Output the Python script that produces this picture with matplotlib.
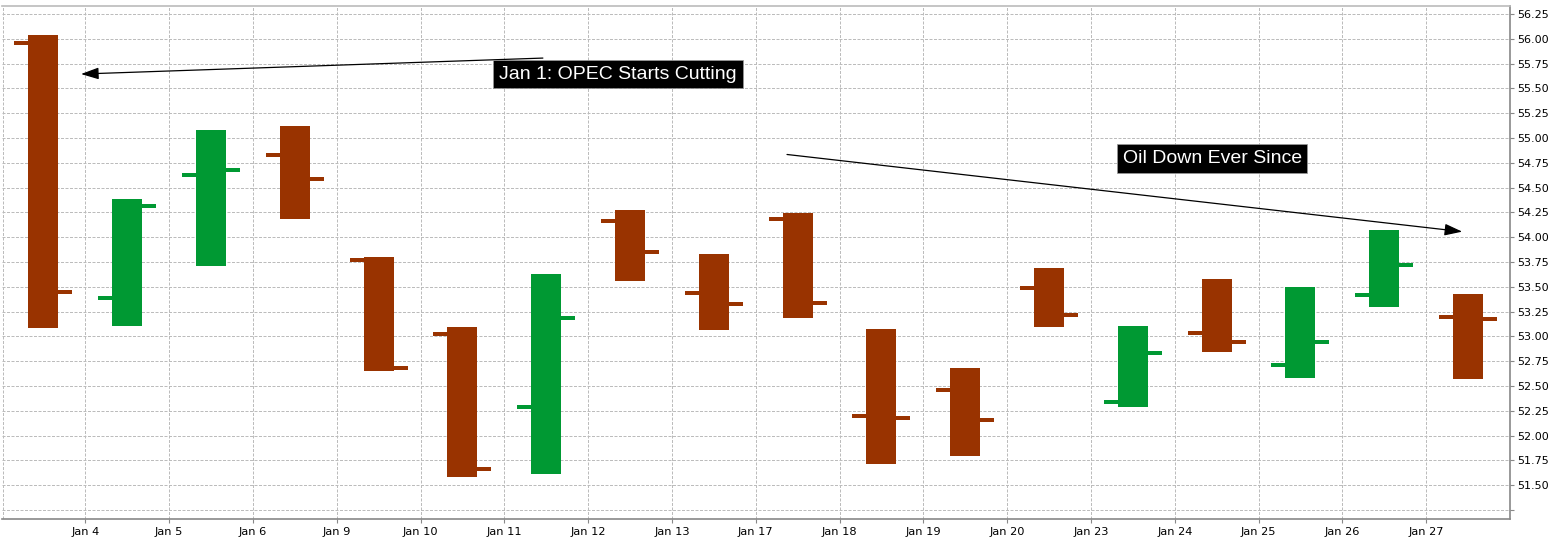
import matplotlib
matplotlib.use("Agg")
import matplotlib.pyplot as plt
import numpy as np

dates = ['Jan 3', 'Jan 4', 'Jan 5', 'Jan 6', 'Jan 9', 'Jan 10', 'Jan 11', 'Jan 12', 'Jan 13',
         'Jan 17', 'Jan 18', 'Jan 19', 'Jan 20', 'Jan 23', 'Jan 24', 'Jan 25', 'Jan 26', 'Jan 27']
opens  = [55.96, 53.39, 54.63, 54.83, 53.77, 53.02, 52.29, 54.16, 53.44,
          54.18, 52.20, 52.46, 53.49, 52.34, 53.03, 52.71, 53.42, 53.20]
highs  = [56.04, 54.39, 55.08, 55.12, 53.80, 53.09, 53.63, 54.27, 53.83,
          54.24, 53.07, 52.68, 53.69, 53.10, 53.58, 53.50, 54.07, 53.43]
lows   = [53.08, 53.10, 53.71, 54.18, 52.65, 51.58, 51.61, 53.56, 53.06,
          53.19, 51.71, 51.79, 53.09, 52.29, 52.84, 52.58, 53.30, 52.57]
closes = [53.45, 54.31, 54.68, 54.59, 52.68, 51.66, 53.19, 53.85, 53.33,
          53.34, 52.18, 52.16, 53.22, 52.83, 52.94, 52.94, 53.72, 53.18]

y_ticks = [51.25, 51.50, 51.75, 52.00, 52.25, 52.50, 52.75, 53.00, 53.25, 53.50, 53.75,
           54.00, 54.25, 54.50, 54.75, 55.00, 55.25, 55.50, 55.75, 56.00, 56.25]

UP = '#009933'
DOWN = '#993300'

W, H = 1556, 544
fig = plt.figure(figsize=(W / 100, H / 100), dpi=100)
ax = fig.add_axes([1.5 / W, (H - 519) / H, (1510 - 1.5) / W, (519 - 6) / H])

opens_a = np.array(opens); highs_a = np.array(highs)
lows_a = np.array(lows); closes_a = np.array(closes)
x = np.arange(len(dates)) + 0.5
colors = [UP if c >= o else DOWN for o, c in zip(opens, closes)]

bw = 0.358
tl = 0.167
th = 0.04
ax.bar(x, highs_a - lows_a, bottom=lows_a, width=bw, color=colors, zorder=3, linewidth=0)
ax.bar(x - bw / 2 - tl / 2, th, bottom=opens_a - th / 2, width=tl, color=colors, zorder=3, linewidth=0)
ax.bar(x + bw / 2 + tl / 2, th, bottom=closes_a - th / 2, width=tl, color=colors, zorder=3, linewidth=0)

ax.set_xlim(0, 18)
ax.set_ylim(51.159, 56.331)

ax.set_xticks(np.arange(1, len(dates)))
ax.set_xticklabels(dates[1:], fontsize=8.2)
ax.set_yticks(y_ticks)
ax.set_yticklabels(['' if v == 51.25 else f'{v:.2f}' for v in y_ticks], fontsize=8)
ax.yaxis.tick_right()
ax.tick_params(axis='x', length=3, width=0.8, color='#888888', pad=3)
ax.tick_params(axis='y', length=3, width=0.8, color='#888888', pad=2)

grid_style = dict(color='#bcbcbc', linestyle=(0, (3, 1.5)), linewidth=0.72)
ax.grid(True, **grid_style)
ax.axvline(0.012, **grid_style)
ax.set_axisbelow(True)

ax.spines['left'].set_visible(False)
ax.spines['top'].set_color('#bbbbbb')
ax.spines['right'].set_color('#888888')
ax.spines['bottom'].set_color('#888888')
for s in ['top', 'right', 'bottom']:
    ax.spines[s].set_linewidth(1.2)

box = dict(boxstyle='square,pad=0.3', facecolor='black', edgecolor='#999999', linewidth=0.5)
ax.text(7.357, 55.645, 'Jan 1: OPEC Starts Cutting', color='white', fontsize=14,
        family=['Liberation Sans', 'DejaVu Sans'], ha='center', va='center', bbox=box, zorder=5)
ax.text(14.445, 54.795, 'Oil Down Ever Since', color='white', fontsize=14,
        family=['Liberation Sans', 'DejaVu Sans'], ha='center', va='center', bbox=box, zorder=5)

arrow = dict(arrowstyle='-|>,head_length=0.6,head_width=0.2', color='black', lw=0.9,
             mutation_scale=18, shrinkA=0, shrinkB=0)
ax.annotate('', xy=(0.949, 55.645), xytext=(6.46, 55.806), arrowprops=arrow, zorder=4)
ax.annotate('', xy=(17.43, 54.056), xytext=(9.373, 54.834), arrowprops=arrow, zorder=4)

fig.savefig('out.png', dpi=100)
